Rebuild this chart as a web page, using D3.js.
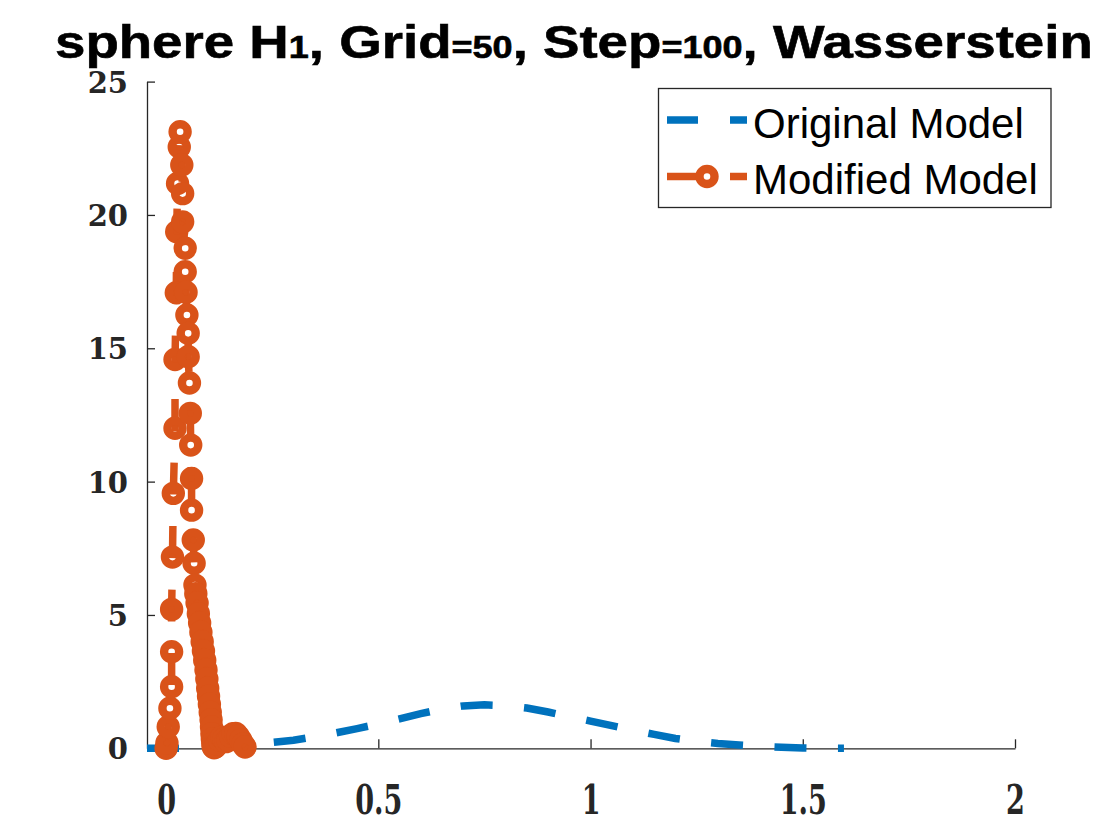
<!DOCTYPE html>
<html><head><meta charset="utf-8">
<script src="https://cdn.jsdelivr.net/npm/d3@7"></script>
<style>body{margin:0;background:#fff}svg{display:block}</style>
</head><body>
<svg id="c" width="1120" height="840"></svg>
<script>
// ---- data ----
const originalX = [-0.045, 0, 0.05, 0.1, 0.15, 0.2, 0.25, 0.3, 0.35, 0.4, 0.45, 0.5, 0.55, 0.6, 0.65, 0.7, 0.75, 0.8, 0.85, 0.9, 0.95, 1.0, 1.05, 1.1, 1.15, 1.2, 1.25, 1.3, 1.35, 1.4, 1.45, 1.5, 1.55, 1.597];
const originalY = [0, 0, 0.01, 0.04, 0.09, 0.15, 0.22, 0.3, 0.43, 0.58, 0.74, 0.91, 1.1, 1.3, 1.47, 1.59, 1.63, 1.6, 1.51, 1.36, 1.19, 1.02, 0.85, 0.68, 0.52, 0.37, 0.26, 0.18, 0.12, 0.07, 0.04, 0.015, 0.0, 0.0];

const modifiedX = [0.000, 0.002, 0.005, 0.009, 0.013, 0.013, 0.013, 0.015, 0.017, 0.021, 0.021, 0.024, 0.025, 0.027, 0.031, 0.033,
  0.037, 0.039, 0.039, 0.045, 0.045, 0.047, 0.049, 0.052, 0.052, 0.055, 0.057, 0.058, 0.060, 0.060, 0.064, 0.066, 0.068,
  0.070, 0.073, 0.076, 0.079, 0.082, 0.085, 0.088, 0.091, 0.094, 0.096, 0.098, 0.100, 0.102, 0.104, 0.106, 0.107, 0.108, 0.109, 0.110, 0.111, 0.113,
  0.116, 0.121, 0.126, 0.131, 0.136, 0.141, 0.146, 0.152, 0.158, 0.164, 0.170, 0.176, 0.181, 0.186];
const modifiedY = [0.0, 0.2, 0.81, 1.5, 2.31, 3.62, 5.21, 7.17, 9.56, 12.0, 14.58, 17.08, 19.37, 21.18, 22.55, 23.12,
  21.87, 20.8, 19.74, 18.75, 17.87, 17.1, 16.25, 15.56, 14.68, 13.7, 12.56, 11.37, 10.12, 8.93, 7.81, 6.94, 6.12,
  5.8, 5.45, 5.05, 4.7, 4.35, 4.0, 3.65, 3.3, 2.94, 2.6, 2.25, 1.95, 1.65, 1.35, 1.07, 0.8, 0.55, 0.35, 0.18, 0.06, 0.02,
  0.05, 0.15, 0.3, 0.42, 0.35, 0.25, 0.3, 0.45, 0.55, 0.56, 0.45, 0.3, 0.15, 0.05];

const xTicks = [0, 0.5, 1, 1.5, 2];
const xTickLabels = ["0", "0.5", "1", "1.5", "2"];
const yTicks = [0, 5, 10, 15, 20, 25];
const yTickLabels = ["0", "5", "10", "15", "20", "25"];
const seriesNames = ["Original Model", "Modified Model"];
const seriesColors = ["#0072BD", "#D95319"];
const titleParts = [["sphere H", false], ["1", true], [", Grid", false], ["=50", true], [", Step", false], ["=100", true], [", Wasserstein", false]];

// ---- chart ----
const svg = d3.select("#c");
const x = d3.scaleLinear().domain([-0.045, 2]).range([147, 1015]);
const y = d3.scaleLinear().domain([0, 25]).range([748.3, 81.6]);
const axisColor = "#262626";

// x axis
const gx = svg.append("g").attr("transform", `translate(0,${y(0)})`)
  .call(d3.axisBottom(x).tickValues(xTicks).tickFormat((d, i) => xTickLabels[i])
    .tickSizeInner(-9).tickSizeOuter(0).tickPadding(0));
gx.select(".domain").attr("stroke", axisColor).attr("stroke-width", 1.3);
gx.selectAll(".tick line").attr("stroke", axisColor).attr("stroke-width", 1.3);
gx.selectAll(".tick text").attr("font-family", "DejaVu Serif").attr("font-weight", "bold")
  .attr("font-size", 41).attr("fill", axisColor).attr("y", 37).attr("dy", "0.71em")
  .attr("transform", "scale(0.66,1)");

// y axis
const gy = svg.append("g").attr("transform", `translate(${x.range()[0]},0)`)
  .call(d3.axisLeft(y).tickValues(yTicks).tickFormat((d, i) => yTickLabels[i])
    .tickSizeInner(-8).tickSizeOuter(0).tickPadding(19));
gy.select(".domain").attr("stroke", axisColor).attr("stroke-width", 1.3);
gy.selectAll(".tick line").attr("stroke", axisColor).attr("stroke-width", 1.3);
gy.selectAll(".tick text").attr("font-family", "DejaVu Serif").attr("font-weight", "bold")
  .attr("font-size", 29).attr("fill", axisColor).attr("dy", "0.36em");

const line = d3.line().x(d => x(d[0])).y(d => y(d[1]));
const dash = "32,31.5";

// Original model
svg.append("path").datum(originalX.map((v, i) => [v, originalY[i]]))
  .attr("d", line).attr("fill", "none").attr("stroke", seriesColors[0])
  .attr("stroke-width", 7.5).attr("stroke-dasharray", dash);

// Modified model
const modData = modifiedX.map((v, i) => [v, modifiedY[i]]);
svg.append("path").datum(modData)
  .attr("d", line).attr("fill", "none").attr("stroke", seriesColors[1])
  .attr("stroke-width", 7.5).attr("stroke-dasharray", dash);
svg.append("g").selectAll("circle").data(modData).join("circle")
  .attr("cx", d => x(d[0])).attr("cy", d => y(d[1])).attr("r", 7.5)
  .attr("fill", "none").attr("stroke", seriesColors[1]).attr("stroke-width", 8.4);

// legend
const lg = svg.append("g");
lg.append("rect").attr("x", 658.5).attr("y", 88.5).attr("width", 392.5).attr("height", 119)
  .attr("fill", "#fff").attr("stroke", axisColor).attr("stroke-width", 1.3);
const rowsY = [120, 176.5];
seriesNames.forEach((name, i) => {
  lg.append("line").attr("x1", 667).attr("x2", 747).attr("y1", rowsY[i]).attr("y2", rowsY[i])
    .attr("stroke", seriesColors[i]).attr("stroke-width", 7.5).attr("stroke-dasharray", "31,32");
  if (i === 1) {
    lg.append("circle").attr("cx", 707).attr("cy", rowsY[i]).attr("r", 7.5)
      .attr("fill", "none").attr("stroke", seriesColors[i]).attr("stroke-width", 8.4);
  }
  lg.append("text").attr("x", 753).attr("y", rowsY[i] + 17.5)
    .attr("font-family", "Liberation Sans, Arial, sans-serif").attr("font-size", 42)
    .attr("fill", "#000").text(name);
});

// title
const title = svg.append("text").attr("x", 0).attr("y", 58)
  .attr("font-family", "Liberation Sans Narrow, Liberation Sans, Arial, sans-serif").attr("font-weight", "bold")
  .attr("font-size", 47).attr("fill", "#000").attr("stroke", "#000").attr("stroke-width", 0.6);
titleParts.forEach(([t, small]) => {
  title.append("tspan").attr("font-size", small ? 31 : 47).text(t);
});
const w = title.node().getComputedTextLength();
const left = 55, right = 1093;
title.attr("transform", `translate(${left},0) scale(${(right - left) / w},1)`);
</script>
</body></html>
